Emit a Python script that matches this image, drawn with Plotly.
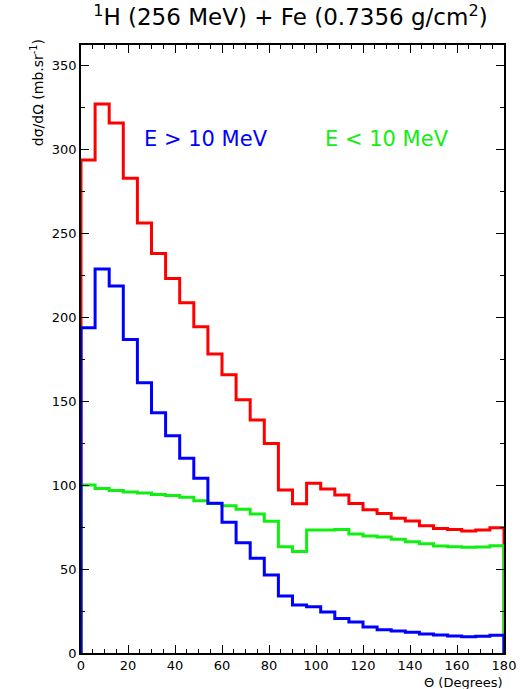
import plotly.graph_objects as go

# Bin edges (degrees), 6-degree bins from 0 to 180
bin_width = 6
n_bins = 30
edges = [i * bin_width for i in range(n_bins + 1)]

total = [293.5, 326.8, 315.5, 282.7, 256.0, 237.9, 223.0, 208.5, 194.2, 178.0,
         165.7, 150.8, 138.7, 124.8, 97.0, 88.9, 101.0, 97.7, 94.0, 89.0,
         85.3, 83.1, 80.2, 78.6, 75.8, 74.2, 73.6, 72.6, 73.2, 74.6]
high_e = [193.7, 228.6, 218.5, 186.7, 160.9, 143.0, 129.4, 115.9, 104.0, 89.1,
          77.9, 65.7, 56.4, 46.4, 33.9, 28.6, 27.6, 24.4, 20.6, 18.5,
          15.5, 13.9, 13.1, 12.3, 11.3, 10.7, 10.1, 9.7, 9.9, 10.5]
low_e = [100.0, 98.0, 96.8, 95.8, 95.2, 94.4, 93.8, 92.8, 90.7, 89.0,
         87.6, 85.6, 82.7, 78.5, 63.3, 60.5, 73.2, 73.3, 73.6, 70.9,
         69.7, 69.0, 67.7, 66.3, 65.1, 63.7, 63.3, 62.9, 63.1, 63.9]

x_ticks = list(range(0, 181, 20))
y_ticks = list(range(0, 351, 50))


def hist_xy(values):
    xs = [edges[0]] + edges[:-1] + [edges[-1], edges[-1]]
    ys = [0] + list(values) + [values[-1], 0]
    return xs, ys


fig = go.Figure()
for vals, col in [(total, "#ff0000"), (low_e, "#11ee11"), (high_e, "#0000ff")]:
    xs, ys = hist_xy(vals)
    fig.add_trace(go.Scatter(x=xs, y=ys, mode="lines", line=dict(color=col, width=3, shape="hv"),
                             showlegend=False, hoverinfo="skip", cliponaxis=False))

font_main = "DejaVu Sans, Liberation Sans, sans-serif"

fig.update_layout(
    width=528, height=689,
    margin=dict(l=81, r=20, t=45, b=36),
    paper_bgcolor="white", plot_bgcolor="white",
    font=dict(family=font_main, color="black"),
    title=dict(text="<sup>1</sup>H (256 MeV) + Fe (0.7356 g/cm<sup>2</sup>)",
               x=0.55, xanchor="center", y=0.975, yanchor="middle",
               font=dict(size=23, family=font_main, color="black")),
    xaxis=dict(range=[0, 180], tickvals=x_ticks, ticks="inside", ticklen=8, tickwidth=1,
               tickcolor="black", showline=True, linecolor="black", linewidth=1.5,
               mirror="ticks", showgrid=False, zeroline=False,
               tickfont=dict(size=13, family=font_main),
               minor=dict(dtick=5, ticks="inside", ticklen=4, tickcolor="black", showgrid=False)),
    yaxis=dict(range=[0, 362], tickvals=y_ticks, ticks="inside", ticklen=8, tickwidth=1,
               tickcolor="black", showline=True, linecolor="black", linewidth=1.5,
               mirror="ticks", showgrid=False, zeroline=False,
               tickfont=dict(size=13, family=font_main),
               minor=dict(dtick=25, ticks="inside", ticklen=4, tickcolor="black", showgrid=False)),
    annotations=[
        dict(text="Θ (Degrees)", x=1.003, xref="paper", y=-0.048, yref="paper", showarrow=False,
             xanchor="right", yanchor="middle", font=dict(size=13, family=font_main)),
        dict(text="dσ/dΩ (mb.sr<sup>-1</sup>)", x=-0.105, xref="paper", y=1.013, yref="paper",
             showarrow=False, textangle=-90, xanchor="center", yanchor="top",
             font=dict(size=14, family=font_main)),
        dict(text="E > 10 MeV", x=26, y=306, xref="x", yref="y", showarrow=False,
             xanchor="left", yanchor="middle", font=dict(size=21, color="#0000ff", family=font_main)),
        dict(text="E < 10 MeV", x=103, y=306, xref="x", yref="y", showarrow=False,
             xanchor="left", yanchor="middle", font=dict(size=21, color="#11ee11", family=font_main)),
    ],
)

fig.write_html("out.html")
